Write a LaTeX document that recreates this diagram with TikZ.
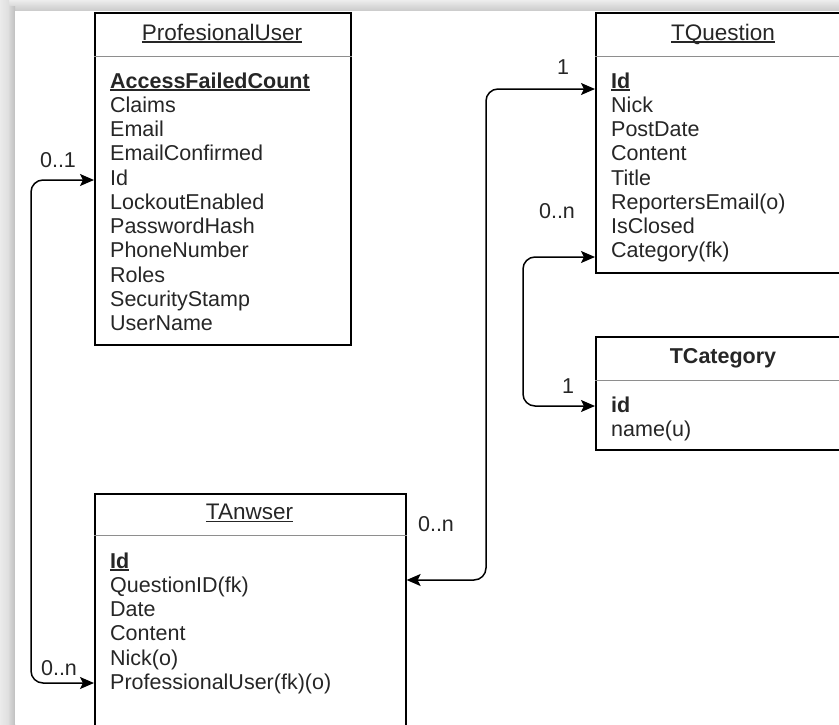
\documentclass[tikz,border=0pt]{standalone}
\usepackage{fontspec}
\setmainfont{Liberation Sans}
\usetikzlibrary{arrows.meta,calc}
\definecolor{txt}{HTML}{262626}
\definecolor{divc}{HTML}{8E8E8E}
\newcommand\rowfont{\fontsize{21.5}{24}\selectfont}
\newcommand\ttlfont{\fontsize{22.5}{26}\selectfont}
\newcommand\myul[1]{\setbox0=\hbox{#1}\rlap{\rule[-2.6pt]{\wd0}{1.2pt}}\box0}
\tikzset{
  tbl/.style={draw=black, line width=1.6pt, fill=white, anchor=north west, inner sep=0pt},
  divl/.style={draw=divc, line width=1pt},
  row/.style={anchor=base west, inner sep=0pt, font=\rowfont, text=txt},
  ttl/.style={anchor=base, inner sep=0pt, font=\ttlfont, text=txt},
  lbl/.style={anchor=center, inner sep=0pt, font=\rowfont, text=txt},
  conn/.style={draw=black, line width=1.5pt, rounded corners=12pt,
    {Stealth[length=14pt,width=12pt,inset=3pt]}-{Stealth[length=14pt,width=12pt,inset=3pt]}}
}
\begin{document}
\begin{tikzpicture}[x=1pt,y=-1pt]
\useasboundingbox (0,0) rectangle (839,724);
\clip (0,0) rectangle (839,724);
\fill[white] (0,0) rectangle (839,724);
% shadow frame
\shade[top color=gray!14, bottom color=gray!30] (0,0) rectangle (839,6);
\shade[top color=gray!30, bottom color=gray!42] (0,6) rectangle (839,11);
\shade[left color=gray!16, right color=gray!26] (0,0) rectangle (9,724);
\shade[left color=gray!30, right color=gray!50] (9,6) rectangle (15,724);
\fill[white] (15,11) rectangle (839,724);

% ---------------- ProfesionalUser
\node[tbl, minimum width=256pt, minimum height=332pt] (pu) at (94,12) {};
\draw[divl] ([yshift=-44pt]pu.north west) -- ([yshift=-44pt]pu.north east);
\node[ttl] (puT) at (222,40) {\myul{ProfesionalUser}};
\node[row] (pu0) at (110,88) {\bfseries\myul{AccessFailedCount}};
\node[row] (pu1) at (110,112.25) {Claims};
\node[row] (pu2) at (110,136.5) {Email};
\node[row] (pu3) at (110,160.75) {EmailConfirmed};
\node[row] (pu4) at (110,185) {Id};
\node[row] (pu5) at (110,209.25) {LockoutEnabled};
\node[row] (pu6) at (110,233.5) {PasswordHash};
\node[row] (pu7) at (110,257.75) {PhoneNumber};
\node[row] (pu8) at (110,282) {Roles};
\node[row] (pu9) at (110,306.25) {SecurityStamp};
\node[row] (pu10) at (110,330.5) {UserName};

% ---------------- TQuestion
\node[tbl, minimum width=256pt, minimum height=260pt] (tq) at (595,12) {};
\draw[divl] ([yshift=-44pt]tq.north west) -- ([yshift=-44pt]tq.north east);
\node[ttl] (tqT) at (723,40) {\myul{TQuestion}};
\node[row] (tq0) at (611,88) {\bfseries\myul{Id}};
\node[row] (tq1) at (611,112.25) {Nick};
\node[row] (tq2) at (611,136.5) {PostDate};
\node[row] (tq3) at (611,160.75) {Content};
\node[row] (tq4) at (611,185) {Title};
\node[row] (tq5) at (611,209.25) {ReportersEmail(o)};
\node[row] (tq6) at (611,233.5) {IsClosed};
\node[row] (tq7) at (611,257.75) {Category(fk)};

% ---------------- TCategory
\node[tbl, minimum width=256pt, minimum height=113pt] (tc) at (595,336) {};
\draw[divl] ([yshift=-44pt]tc.north west) -- ([yshift=-44pt]tc.north east);
\node[ttl, font=\rowfont\bfseries] (tcT) at (723,363) {TCategory};
\node[row] (tc0) at (611,412.5) {\bfseries id};
\node[row] (tc1) at (611,436.75) {name(u)};

% ---------------- TAnwser
\node[tbl, minimum width=311pt, minimum height=280pt] (ta) at (94,493) {};
\draw[divl] ([yshift=-42pt]ta.north west) -- ([yshift=-42pt]ta.north east);
\node[ttl] (taT) at (249.5,519.5) {\myul{TAnwser}};
\node[row] (ta0) at (110,568) {\bfseries\myul{Id}};
\node[row] (ta1) at (110,592.25) {QuestionID(fk)};
\node[row] (ta2) at (110,616.5) {Date};
\node[row] (ta3) at (110,640.75) {Content};
\node[row] (ta4) at (110,665) {Nick(o)};
\node[row] (ta5) at (110,689.25) {ProfessionalUser(fk)(o)};

% ---------------- connector ends
\coordinate (puIn) at ([yshift=-168pt]pu.north west);
\coordinate (tqIdIn) at ([yshift=-77pt]tq.north west);
\coordinate (tqCatIn) at ([yshift=-245pt]tq.north west);
\coordinate (tcIn) at ([yshift=-70pt]tc.north west);
\coordinate (taQIn) at ([yshift=-87pt]ta.north east);
\coordinate (taPIn) at ([yshift=-190pt]ta.north west);

\draw[conn] (taPIn) -- ++(-63,0) |- (puIn);
\draw[conn] (tqIdIn) -- ++(-109,0) |- (taQIn);
\draw[conn] (tqCatIn) -- ++(-72,0) |- (tcIn);

% ---------------- labels
\node[lbl] (l1) at (58,160) {0..1};
\node[lbl] (l2) at (59,668) {0..n};
\node[lbl] (l3) at (563,67) {1};
\node[lbl] (l4) at (557,211) {0..n};
\node[lbl] (l5) at (568,386) {1};
\node[lbl] (l6) at (436,524) {0..n};
\end{tikzpicture}
\end{document}
